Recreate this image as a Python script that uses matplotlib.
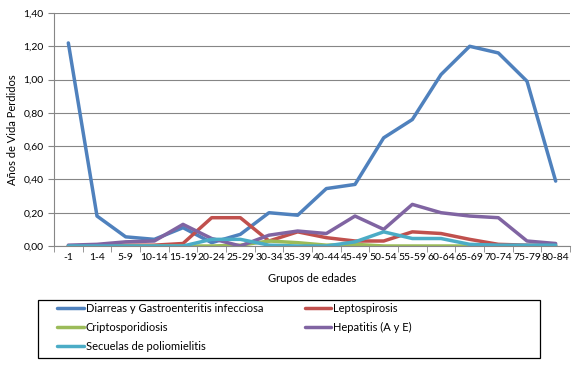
import matplotlib.pyplot as plt
from matplotlib.patches import Rectangle
from matplotlib.ticker import FixedLocator, FuncFormatter
import numpy as np

plt.rcParams['font.family'] = ['Lato', 'DejaVu Sans']

grupos = ["-1", "1-4", "5-9", "10-14", "15-19", "20-24", "25-29", "30-34", "35-39",
          "40-44", "45-49", "50-54", "55-59", "60-64", "65-69", "70-74", "75-79", "80-84"]

diarreas = [1.22, 0.18, 0.055, 0.04, 0.11, 0.02, 0.07, 0.20, 0.185,
            0.345, 0.37, 0.65, 0.76, 1.03, 1.20, 1.16, 0.99, 0.39]
lepto = [0.0, 0.005, 0.005, 0.005, 0.015, 0.17, 0.17, 0.03, 0.085,
         0.05, 0.03, 0.03, 0.085, 0.075, 0.04, 0.01, 0.005, 0.005]
cripto = [0.0, 0.0, 0.0, 0.0, 0.0, 0.0, 0.005, 0.03, 0.02,
          0.005, 0.01, 0.0, 0.0, 0.0, 0.0, 0.0, 0.0, 0.0]
hepatitis = [0.005, 0.01, 0.025, 0.03, 0.13, 0.045, 0.0, 0.065, 0.09,
             0.075, 0.18, 0.10, 0.25, 0.20, 0.18, 0.17, 0.03, 0.015]
secuelas = [0.0, 0.0, 0.0, 0.0, 0.0, 0.04, 0.04, 0.005, 0.0,
            0.0, 0.025, 0.085, 0.045, 0.045, 0.01, 0.005, 0.005, 0.005]

series = [
    ("Diarreas y Gastroenteritis infecciosa", diarreas, "#4F81BD"),
    ("Leptospirosis", lepto, "#C0504D"),
    ("Criptosporidiosis", cripto, "#9BBB59"),
    ("Hepatitis (A y E)", hepatitis, "#8064A2"),
    ("Secuelas de poliomielitis", secuelas, "#4BACC6"),
]

W, H = 579, 367
fig = plt.figure(figsize=(W / 100, H / 100), dpi=100)
ax = fig.add_axes([54 / W, 121 / H, 516 / W, 233 / H])

x = np.arange(len(grupos))
lines = {}
for name, vals, color in series:
    ln, = ax.plot(x, vals, color=color, lw=2.5, solid_joinstyle="round",
                  solid_capstyle="round", label=name)
    lines[name] = ln

ax.set_xlim(-0.5, len(grupos) - 0.5)
ax.set_ylim(0, 1.40)
ax.set_yticks(np.arange(0, 1.41, 0.2))
ax.yaxis.set_major_formatter(FuncFormatter(lambda v, p: f"{v:.2f}".replace(".", ",")))
ax.set_xticks(x)
ax.set_xticklabels(grupos)
ax.xaxis.set_minor_locator(FixedLocator(np.arange(-0.5, len(grupos), 1.0)))
ax.tick_params(axis="x", which="major", length=0, labelsize=7.5, pad=5)
ax.tick_params(axis="x", which="minor", length=4, color="#868686")
ax.tick_params(axis="y", length=4, color="#868686", labelsize=7.5)

ax.grid(axis="y", color="#868686", lw=0.8)
ax.set_axisbelow(True)
for s in ["top", "right"]:
    ax.spines[s].set_visible(False)
ax.spines["left"].set_color("#868686")
ax.spines["bottom"].set_color("#868686")

ax.set_ylabel("Años de Vida Perdidos", fontsize=8, labelpad=4)
ax.set_xlabel("Grupos de edades", fontsize=8, labelpad=8)

# legend box drawn separately, entries ordered column-wise so rows read like the original
fig.patches.append(Rectangle((38 / W, 9 / H), 502 / W, 58 / H, transform=fig.transFigure,
                             facecolor="none", edgecolor="black", lw=0.9))
order = ["Diarreas y Gastroenteritis infecciosa", "Criptosporidiosis",
         "Secuelas de poliomielitis", "Leptospirosis", "Hepatitis (A y E)"]
fig.legend([lines[n] for n in order], order, ncol=2, loc="upper left",
           bbox_to_anchor=(57 / W, (H - 303) / H), fontsize=8, frameon=False,
           borderpad=0, borderaxespad=0, handlelength=2.4, handletextpad=0.2,
           columnspacing=3.7, labelspacing=0.7)

plt.savefig("out.png", dpi=100, facecolor="white")
plt.close()
